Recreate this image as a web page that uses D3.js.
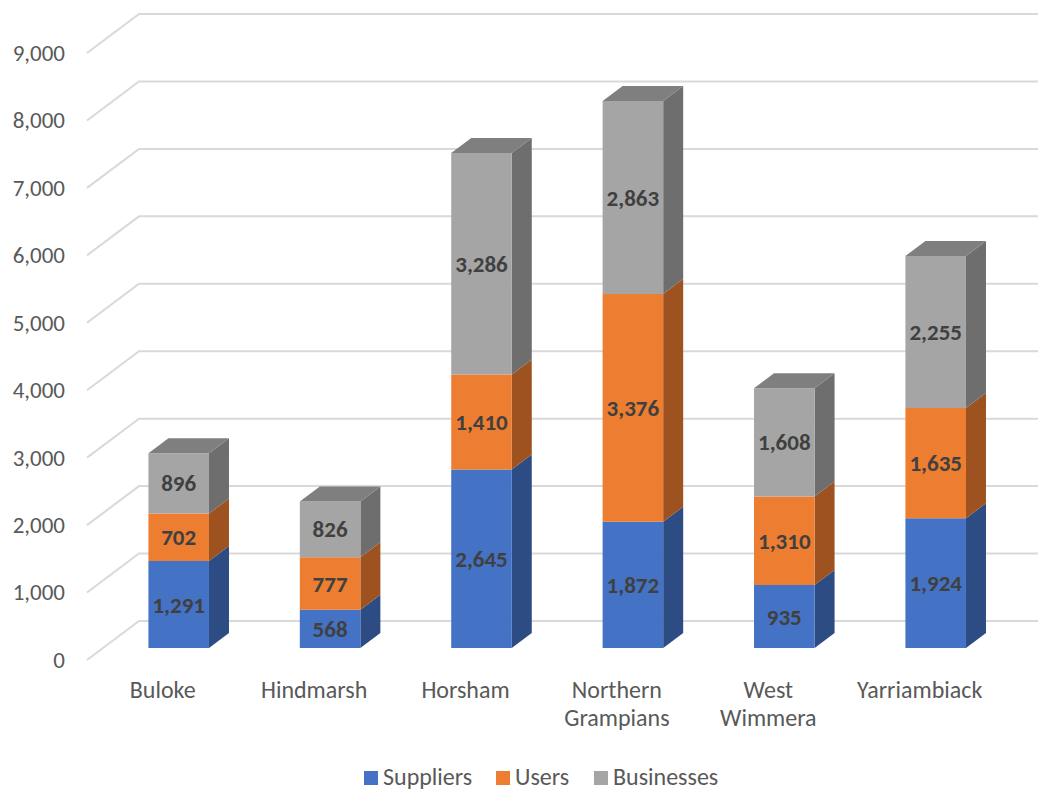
<!DOCTYPE html>
<html>
<head>
<meta charset="utf-8">
<script src="https://cdn.jsdelivr.net/npm/d3@7"></script>
<style>
  html, body { margin: 0; padding: 0; background: #fff; }
  svg { display: block; font-family: Carlito, Calibri, Lato, sans-serif; }
</style>
</head>
<body>
<svg id="chart" width="1038" height="790"></svg>
<script>
// Stacked 3D column chart: suppliers, users and businesses per municipality
const categories = ["Buloke", "Hindmarsh", "Horsham", "Northern Grampians", "West Wimmera", "Yarriambiack"];
const categoryLines = [["Buloke"], ["Hindmarsh"], ["Horsham"], ["Northern", "Grampians"], ["West", "Wimmera"], ["Yarriambiack"]];
const seriesNames = ["Suppliers", "Users", "Businesses"];
const suppliers = [1291, 568, 2645, 1872, 935, 1924];
const users = [702, 777, 1410, 3376, 1310, 1635];
const businesses = [896, 826, 3286, 2863, 1608, 2255];
const yTicks = [0, 1000, 2000, 3000, 4000, 5000, 6000, 7000, 8000, 9000];

const frontColors = ["#4472C4", "#ED7D31", "#A5A5A5"];
const sideColors = ["#2E4C84", "#9E521F", "#6E6E6E"];
const topColor = "#7F7F7F";

const svg = d3.select("#chart");

// Front plane scales; depth is projected with a fixed oblique offset
const x = d3.scaleBand().domain(categories).range([87, 995.4]).paddingInner(0).paddingOuter(0);
const y = d3.scaleLinear().domain([0, 9000]).range([660, 53]);
const depthX = 52, depthY = 39;
const zFront = 12 / 39, zBack = 27 / 39;
const px = (sx, z) => sx + z * depthX;
const py = (v, z) => y(v) - z * depthY;

// Back wall and side wall gridlines
const grid = svg.append("g");
yTicks.forEach(t => {
  grid.append("path")
    .attr("d", `M${px(87, 0)},${py(t, 0)} L${px(87, 1)},${py(t, 1)} L1040,${py(t, 1)}`)
    .attr("fill", "none")
    .attr("stroke", "#D9D9D9")
    .attr("stroke-width", 2);
});

// Value axis labels
const axis = d3.axisLeft(y).tickValues(yTicks).tickFormat(d3.format(",")).tickSize(0).tickPadding(22);
const axisG = svg.append("g").attr("transform", "translate(87,0)").call(axis);
axisG.select(".domain").remove();
axisG.selectAll("text")
  .attr("fill", "#595959")
  .style("font-size", "23px")
  .style("font-family", "Carlito, Calibri, Lato, sans-serif");

// Stack the series
const rows = categories.map((c, i) => ({ cat: c, Suppliers: suppliers[i], Users: users[i], Businesses: businesses[i] }));
const stack = d3.stack().keys(seriesNames)(rows);

const barW = x.bandwidth() * 0.4;
const poly = pts => pts.map(p => p.join(",")).join(" ");

const bars = svg.append("g");
categories.forEach((c, i) => {
  const cx = x(c) + x.bandwidth() / 2;
  const x0 = cx - barW / 2, x1 = cx + barW / 2;
  const g = bars.append("g");
  stack.forEach((layer, s) => {
    const v0 = layer[i][0], v1 = layer[i][1];
    // side face
    g.append("polygon")
      .attr("points", poly([
        [px(x1, zFront), py(v0, zFront)], [px(x1, zBack), py(v0, zBack)],
        [px(x1, zBack), py(v1, zBack)], [px(x1, zFront), py(v1, zFront)]
      ]))
      .attr("fill", sideColors[s]);
    // front face
    g.append("polygon")
      .attr("points", poly([
        [px(x0, zFront), py(v0, zFront)], [px(x1, zFront), py(v0, zFront)],
        [px(x1, zFront), py(v1, zFront)], [px(x0, zFront), py(v1, zFront)]
      ]))
      .attr("fill", frontColors[s]);
  });
  // top face of the column
  const top = stack[stack.length - 1][i][1];
  g.append("polygon")
    .attr("points", poly([
      [px(x0, zFront), py(top, zFront)], [px(x1, zFront), py(top, zFront)],
      [px(x1, zBack), py(top, zBack)], [px(x0, zBack), py(top, zBack)]
    ]))
    .attr("fill", topColor);
  // value labels
  stack.forEach((layer, s) => {
    const v0 = layer[i][0], v1 = layer[i][1];
    g.append("text")
      .attr("x", px(cx, zFront))
      .attr("y", py((v0 + v1) / 2, zFront))
      .attr("dy", "0.35em")
      .attr("text-anchor", "middle")
      .attr("fill", "#404040")
      .style("font-size", "23px")
      .style("font-weight", "900")
      .text(d3.format(",")(v1 - v0));
  });
});

// Category labels
const catG = svg.append("g");
categories.forEach((c, i) => {
  const t = catG.append("text")
    .attr("x", x(c) + x.bandwidth() / 2)
    .attr("y", 698)
    .attr("text-anchor", "middle")
    .attr("fill", "#595959")
    .style("font-size", "24px");
  categoryLines[i].forEach((line, k) => {
    t.append("tspan")
      .attr("x", x(c) + x.bandwidth() / 2)
      .attr("dy", k === 0 ? 0 : 28)
      .text(line);
  });
});

// Legend
const legendX = [364, 496, 594];
const legend = svg.append("g");
seriesNames.forEach((name, s) => {
  legend.append("rect")
    .attr("x", legendX[s]).attr("y", 771)
    .attr("width", 14).attr("height", 14)
    .attr("fill", frontColors[s]);
  legend.append("text")
    .attr("x", legendX[s] + 19).attr("y", 785)
    .attr("fill", "#595959")
    .style("font-size", "24px")
    .text(name);
});
</script>
</body>
</html>
